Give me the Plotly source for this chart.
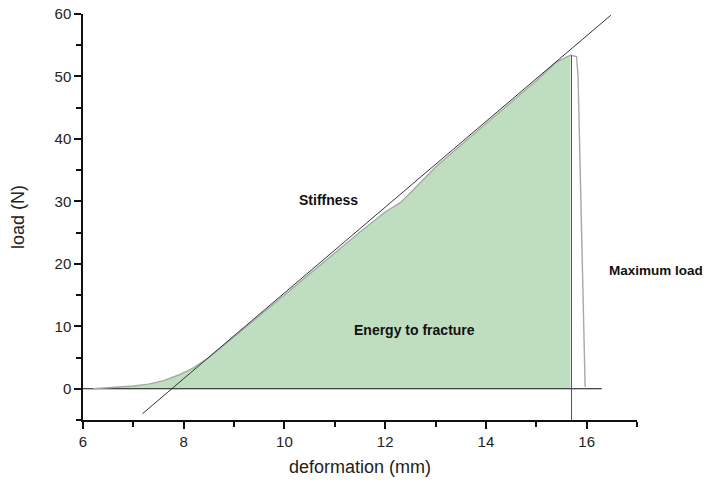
import plotly.graph_objects as go

# Load-deformation curve
deform = [6.2, 6.6, 7.0, 7.3, 7.6, 7.9, 8.2, 8.5, 9.0, 9.5, 10.0, 10.5, 11.0, 11.5,
          12.0, 12.3, 12.6, 13.0, 13.5, 14.0, 14.5, 15.0, 15.4, 15.68]
load = [0.0, 0.2, 0.45, 0.75, 1.3, 2.2, 3.4, 5.0, 8.3, 11.7, 15.0, 18.4, 21.8, 25.1,
        28.3, 29.8, 32.2, 35.5, 39.0, 42.4, 45.9, 49.3, 52.3, 53.4]
# post-peak drop
drop_x = [15.68, 15.8, 15.83, 15.97]
drop_y = [53.4, 53.2, 50.0, 0.3]
# stiffness line end points
stiff_x = [7.18, 16.48]
stiff_y = [-4.0, 59.8]
# fracture position
fracture_x = 15.7
baseline_x = [6.0, 16.3]

fig = go.Figure()

fig.add_trace(go.Scatter(x=deform, y=load, mode="lines", fill="tozeroy",
                         fillcolor="rgb(191,222,191)", line=dict(color="rgba(0,0,0,0)", width=0),
                         hoverinfo="skip"))
fig.add_trace(go.Scatter(x=baseline_x, y=[0, 0], mode="lines",
                         line=dict(color="#111", width=1.2)))
fig.add_trace(go.Scatter(x=deform + drop_x[1:], y=load + drop_y[1:], mode="lines",
                         line=dict(color="#a8a8a8", width=1.4)))
fig.add_trace(go.Scatter(x=[fracture_x, fracture_x], y=[-5, load[-1]], mode="lines",
                         line=dict(color="#555", width=1)))
fig.add_trace(go.Scatter(x=stiff_x, y=stiff_y, mode="lines",
                         line=dict(color="#333", width=1)))

ann_font = dict(family="Liberation Sans, Arial, sans-serif", size=14, color="#111")
fig.add_annotation(x=10.87, y=30.2, text="<b>Stiffness</b>", showarrow=False, font=ann_font,
                   xanchor="center", yanchor="middle")
fig.add_annotation(x=12.58, y=9.4, text="<b>Energy to fracture</b>", showarrow=False, font=ann_font,
                   xanchor="center", yanchor="middle")
fig.add_annotation(x=1.034, y=0.369, xref="paper", yref="paper", text="<b>Maximum load</b>",
                   showarrow=False, font=dict(family="Liberation Sans, Arial, sans-serif", size=13.5, color="#111"),
                   xanchor="center", yanchor="middle")

fig.update_layout(
    width=716, height=488,
    margin=dict(l=75, r=87, t=6, b=76, autoexpand=False),
    paper_bgcolor="white", plot_bgcolor="white",
    showlegend=False,
    font=dict(family="Liberation Sans, Arial, sans-serif", color="#222"),
)
fig.update_xaxes(range=[6, 17], showgrid=False, zeroline=False, automargin=False,
                 showline=True, linecolor="#111", linewidth=1.5,
                 ticks="outside", tickcolor="#111", ticklen=7, tickwidth=1.5,
                 tick0=6, dtick=2, tickfont=dict(size=15), ticklabeloverflow="allow",
                 minor=dict(ticks="outside", dtick=1, ticklen=5, tickcolor="#111", tickwidth=1.5),
                 title=dict(text="deformation (mm)", font=dict(size=18), standoff=12))
fig.update_yaxes(range=[-5, 60], showgrid=False, zeroline=False, automargin=False,
                 showline=True, linecolor="#111", linewidth=1.5,
                 ticks="outside", tickcolor="#111", ticklen=7, tickwidth=1.5,
                 tick0=0, dtick=10, tickfont=dict(size=15), ticklabeloverflow="allow",
                 minor=dict(ticks="outside", dtick=5, ticklen=5, tickcolor="#111", tickwidth=1.5),
                 title=dict(text="load (N)", font=dict(size=18), standoff=26))

fig.write_html("out.html")
